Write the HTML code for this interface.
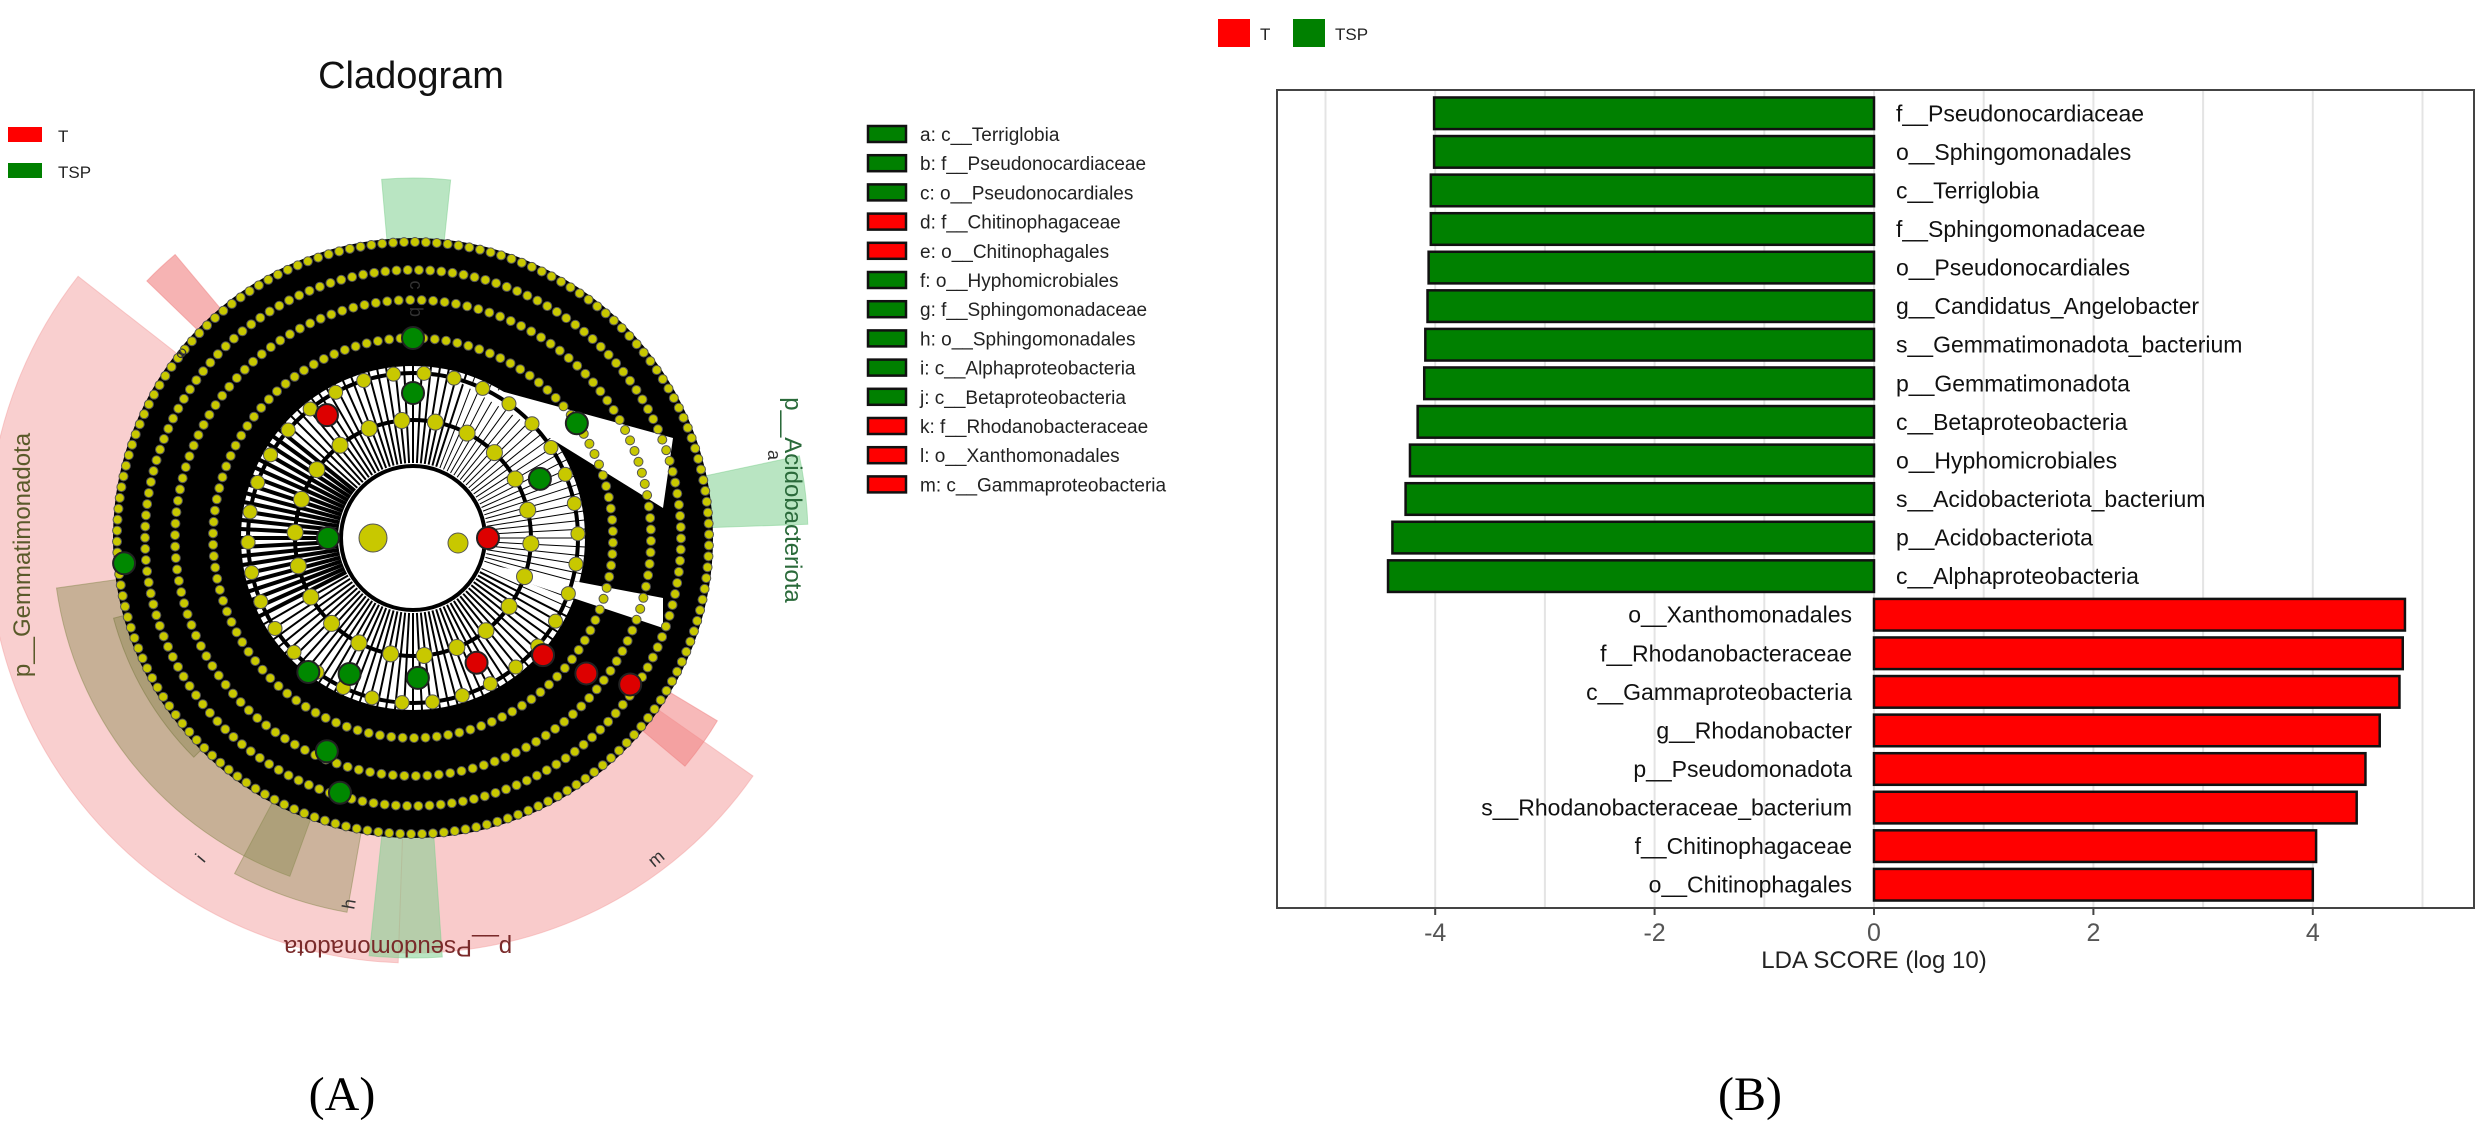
<!DOCTYPE html>
<html><head><meta charset="utf-8"><style>
html,body{margin:0;padding:0;background:#fff;}
svg{display:block;font-family:"Liberation Sans","DejaVu Sans",sans-serif;}
</style></head><body>
<svg id="fig" width="2483" height="1124" viewBox="0 0 2483 1124" xmlns="http://www.w3.org/2000/svg">
<g id="clado"></g>
<g id="bars"></g>
<text x="342" y="1110" font-family="Liberation Serif,serif" font-size="48" text-anchor="middle">(A)</text>
<text x="1750" y="1110" font-family="Liberation Serif,serif" font-size="48" text-anchor="middle">(B)</text>
</svg>
<script>
const NS='http://www.w3.org/2000/svg';
const categories=['f__Pseudonocardiaceae','o__Sphingomonadales','c__Terriglobia','f__Sphingomonadaceae','o__Pseudonocardiales','g__Candidatus_Angelobacter','s__Gemmatimonadota_bacterium','p__Gemmatimonadota','c__Betaproteobacteria','o__Hyphomicrobiales','s__Acidobacteriota_bacterium','p__Acidobacteriota','c__Alphaproteobacteria','o__Xanthomonadales','f__Rhodanobacteraceae','c__Gammaproteobacteria','g__Rhodanobacter','p__Pseudomonadota','s__Rhodanobacteraceae_bacterium','f__Chitinophagaceae','o__Chitinophagales'];
const ldaValues=[-4.01,-4.01,-4.04,-4.04,-4.06,-4.07,-4.09,-4.10,-4.16,-4.23,-4.27,-4.39,-4.43,4.84,4.82,4.79,4.61,4.48,4.40,4.03,4.00];
const groups=['TSP','TSP','TSP','TSP','TSP','TSP','TSP','TSP','TSP','TSP','TSP','TSP','TSP','T','T','T','T','T','T','T','T'];
const tickValues=[-4,-2,0,2,4];
const tickLabels=['-4','-2','0','2','4'];
const gridValues=[-5,-4,-3,-2,-1,0,1,2,3,4,5];
const legendGroups=['T','TSP'];
const cladoLegend=['a: c__Terriglobia','b: f__Pseudonocardiaceae','c: o__Pseudonocardiales','d: f__Chitinophagaceae','e: o__Chitinophagales','f: o__Hyphomicrobiales','g: f__Sphingomonadaceae','h: o__Sphingomonadales','i: c__Alphaproteobacteria','j: c__Betaproteobacteria','k: f__Rhodanobacteraceae','l: o__Xanthomonadales','m: c__Gammaproteobacteria'];
const cladoGroups=['TSP','TSP','TSP','T','T','TSP','TSP','TSP','TSP','TSP','T','T','T'];
const COL={T:'#ff0000',TSP:'#008000'};

function mk(tag,attrs,parent,txt){const e=document.createElementNS(NS,tag);for(const k in attrs)e.setAttribute(k,attrs[k]);if(txt!==undefined)e.textContent=txt;parent.appendChild(e);return e;}

// ---------- Bar chart ----------
const B=document.getElementById('bars');
const PL=1277,PR=2474,PT=90,PB=908;
const x0=1874,unit=109.7;
const xs=v=>x0+v*unit;
const rowTop=PT+4,pitch=(PB-PT-8)/categories.length;
const ys=i=>rowTop+pitch*(i+0.5);
const bh=pitch*0.82;
gridValues.forEach(v=>{const g=mk('line',{x1:xs(v),x2:xs(v),y1:PT,y2:PB,stroke:'#e4e4e4','stroke-width':2},B);
});
categories.forEach((c,i)=>{
 const v=ldaValues[i];const x=Math.min(xs(0),xs(v));const w=Math.abs(xs(v)-xs(0));
 const r=mk('rect',{x:x,y:ys(i)-bh/2,width:w,height:bh,fill:COL[groups[i]],stroke:'#111','stroke-width':2.5},B);
 
 
 const neg=v<0;
 const t=mk('text',{x:neg?xs(0)+22:xs(0)-22,y:ys(i)+8,'font-size':23,'text-anchor':neg?'start':'end',fill:'#111'},B,c);
 
 
});
const fr=mk('rect',{x:PL,y:PT,width:PR-PL,height:PB-PT,fill:'none',stroke:'#444','stroke-width':2},B);

tickValues.forEach((v,i)=>{mk('line',{x1:xs(v),x2:xs(v),y1:PB,y2:PB+7,stroke:'#444','stroke-width':2},B);
 const t=mk('text',{x:xs(v),y:PB+33,'font-size':25,'text-anchor':'middle',fill:'#555'},B,tickLabels[i]);
 });
const xt=mk('text',{x:x0,y:968,'font-size':24,'text-anchor':'middle',fill:'#222'},B,'LDA SCORE (log 10)');

let lx=1218;
legendGroups.forEach(gname=>{
 const r=mk('rect',{x:lx,y:19,width:32,height:28,fill:COL[gname]},B);
 
 const t=mk('text',{x:lx+42,y:40,'font-size':17,fill:'#222'},B,gname);
 
 lx+=75;
});

// ---------- Cladogram ----------
const C=document.getElementById('clado');
const cx=413,cy=538,R=300;
function sector(a1,a2,r1,r2,fill,op,name){
 const d2r=Math.PI/180;const p=(a,r)=>[cx+r*Math.cos(a*d2r),cy+r*Math.sin(a*d2r)];
 const [x1,y1]=p(a1,r2),[x2,y2]=p(a2,r2),[x3,y3]=p(a2,r1),[x4,y4]=p(a1,r1);
 const large=(a2-a1)>180?1:0;
 const e=mk('path',{d:`M${x1},${y1}A${r2},${r2} 0 ${large} 1 ${x2},${y2}L${x3},${y3}A${r1},${r1} 0 ${large} 0 ${x4},${y4}Z`,fill:fill,'fill-opacity':op,stroke:fill,'stroke-opacity':0.5},C);
 return e;}
sector(92,218,60,425,'#f4a0a0',0.5,'clade-p-gemmatimonadota');
sector(110,172,60,360,'#8a8a50',0.45,'clade-sphingomonadales');
sector(135,165,60,310,'#7a7a40',0.35,'clade-alphaproteobacteria');
sector(100,118,60,380,'#8a8a50',0.4,'clade-h');
sector(35,92,60,415,'#f4a0a0',0.55,'clade-p-pseudomonadota');
sector(86,96,60,420,'#7fcf8f',0.55,'clade-j');
sector(31,40,60,355,'#f08080',0.55,'clade-k');
sector(265,276,60,360,'#7fcf8f',0.55,'clade-c');
sector(-12,-2,60,395,'#7fcf8f',0.55,'clade-a');
sector(224,230,60,370,'#f08080',0.6,'clade-e');
// white interior, then black outer annulus
mk('circle',{cx:cx,cy:cy,r:R,fill:'#fff'},C);
const ring=mk('circle',{cx:cx,cy:cy,r:236,fill:'none',stroke:'#000','stroke-width':128},C);

// spokes in inner region
for(let a=0;a<360;a+=3){const r=a*Math.PI/180;const w=(a>290||a<25)?1:(a>150&&a<220?4:2);mk('line',{x1:cx+75*Math.cos(r),y1:cy+75*Math.sin(r),x2:cx+175*Math.cos(r),y2:cy+175*Math.sin(r),stroke:'#000','stroke-width':w},C);}
mk('path',{d:`M${cx+40},${cy-160} L${cx+260},${cy-100} L${cx+250},${cy-30} Z`,fill:'#fff'},C);
mk('path',{d:`M${cx+40},${cy+20} L${cx+250},${cy+60} L${cx+250},${cy+90} Z`,fill:'#fff'},C);
mk('circle',{cx:cx,cy:cy,r:72,fill:'#fff',stroke:'#000','stroke-width':4},C);
[118,165].forEach(r=>mk('circle',{cx:cx,cy:cy,r:r,fill:'none',stroke:'#000','stroke-width':4},C));
// yellow dots
[[118,22,14],[165,34,12],[200,110,7],[238,130,7],[268,150,7],[296,170,7]].forEach(([r,n,s])=>{
 for(let i=0;i<n;i++){const a=i/n*2*Math.PI+r;mk('circle',{cx:cx+r*Math.cos(a),cy:cy+r*Math.sin(a),r:s/2+1,fill:'#c8c800',stroke:'#555','stroke-width':1},C);}
});
mk('circle',{cx:cx-40,cy:cy,r:14,fill:'#c8c800',stroke:'#555'},C);
mk('circle',{cx:cx+45,cy:cy+5,r:10,fill:'#c8c800',stroke:'#555'},C);
// coloured nodes
[[0,75,'#d00'],[63,140,'#d00'],[42,175,'#d00'],[38,220,'#d00'],[34,262,'#d00'],[88,140,'#080'],[115,150,'#080'],[128,170,'#080'],[-90,145,'#080'],[-90,200,'#080'],[-25,140,'#080'],[-35,200,'#080'],[180,85,'#080'],[175,290,'#080'],[112,230,'#080'],[106,265,'#080'],[235,150,'#d00']].forEach(([a,r,c])=>{
 const t=a*Math.PI/180;const n=mk('circle',{cx:cx+r*Math.cos(t),cy:cy+r*Math.sin(t),r:11,fill:c,stroke:'#222','stroke-width':2},C);
 
});
function rt(x,y,rot,txt,col,size,name){const t=mk('text',{x:x,y:y,transform:`rotate(${rot} ${x} ${y})`,'font-size':size,fill:col,'text-anchor':'middle'},C,txt);}
rt(30,555,-90,'p__Gemmatimonadota','#5a5a2a',24,'label-p-gemmatimonadota');
rt(785,500,90,'p__Acidobacteriota','#2a6a3a',24,'label-p-acidobacteriota');
rt(398,940,180,'p__Pseudomonadota','#7a2a2a',24,'label-p-pseudomonadota');
[['a',768,455,90],['b',410,312,90],['c',410,285,90],['e',185,350,-135],['m',660,863,-40],['i',205,862,-50],['h',355,905,-80]].forEach(([l,x,y,r])=>rt(x,y,r,l,'#333',18,'clade-letter-'+l));
const tt=mk('text',{x:411,y:88,'font-size':38,'text-anchor':'middle',fill:'#111'},C,'Cladogram');

legendGroups.forEach((g,i)=>{
 const r=mk('rect',{x:8,y:127+i*36,width:34,height:15,fill:COL[g]},C);
 
 const t=mk('text',{x:58,y:142+i*36,'font-size':17,fill:'#222'},C,g);
 
});
cladoLegend.forEach((s,i)=>{
 const y=126+i*29.2;
 const r=mk('rect',{x:868,y:y,width:38,height:16,fill:COL[cladoGroups[i]],stroke:'#111','stroke-width':2.5},C);
 
 const t=mk('text',{x:920,y:y+15,'font-size':19,fill:'#222'},C,s);
 
});
</script>
</body></html>
